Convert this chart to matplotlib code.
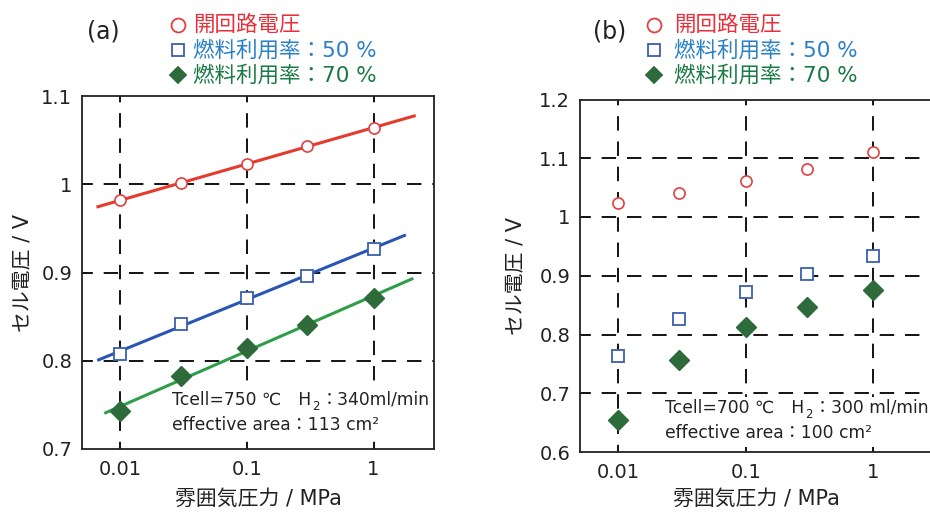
import numpy as np
import matplotlib
matplotlib.use("Agg")
import matplotlib.pyplot as plt
from matplotlib.lines import Line2D
from matplotlib.patches import Rectangle

plt.rcParams['font.family'] = ['DejaVu Sans', 'Noto Sans CJK JP']

# ---------------- data ----------------
pressure = [0.01, 0.03, 0.1, 0.3, 1.0]
xticks = [0.01, 0.1, 1]
xticklabels = ["0.01", "0.1", "1"]

# panel (a): Tcell=750 C
a_ocv = [0.982, 1.001, 1.023, 1.043, 1.064]
a_u50 = [0.808, 0.842, 0.871, 0.896, 0.927]
a_u70 = [0.743, 0.783, 0.814, 0.841, 0.871]
a_fit_ranges = {"ocv": [0.0065, 2.15], "u50": [0.0066, 1.8], "u70": [0.0075, 2.06]}
a_yticks = [0.7, 0.8, 0.9, 1.0, 1.1]
a_yticklabels = ["0.7", "0.8", "0.9", "1", "1.1"]

# panel (b): Tcell=700 C
b_ocv = [1.024, 1.041, 1.062, 1.082, 1.111]
b_u50 = [0.764, 0.827, 0.872, 0.903, 0.933]
b_u70 = [0.654, 0.756, 0.812, 0.846, 0.875]
b_yticks = [0.6, 0.7, 0.8, 0.9, 1.0, 1.1, 1.2]
b_yticklabels = ["0.6", "0.7", "0.8", "0.9", "1", "1.1", "1.2"]

legend_labels = ["開回路電圧", "燃料利用率：50 %", "燃料利用率：70 %"]
ylabel = "セル電圧 / V"
xlabel = "雰囲気圧力 / MPa"
a_note = [("Tcell=750 ℃　H", "2", "：340ml/min"), "effective area：113 cm²"]
b_note = [("Tcell=700 ℃　H", "2", "：300 ml/min"), "effective area：100 cm²"]

# ---------------- styles ----------------
RED_T, BLUE_T, GREEN_T = "#e8303a", "#2a80c8", "#1a7a45"
RED_M, BLUE_M, GREEN_M = "#e04040", "#3a5fb0", "#2d6b3a"
RED_L, BLUE_L, GREEN_L = "#e53b2e", "#2a55b5", "#2e9e48"
TXT = "#222222"

W, H = 930, 513
fig = plt.figure(figsize=(W / 100, H / 100), dpi=100)


def fig_rect(l, t, r, b):
    return [l / W, 1 - b / H, (r - l) / W, (b - t) / H]


def style_axes(ax, ylim, yticks, yticklabels, ylab_x, xlab_x):
    ax.set_xscale("log")
    ax.set_xlim(0.005, 3.0)
    ax.set_ylim(*ylim)
    ax.set_xticks(xticks)
    ax.set_xticklabels(xticklabels)
    ax.xaxis.set_minor_locator(matplotlib.ticker.NullLocator())
    ax.set_yticks(yticks)
    ax.set_yticklabels(yticklabels)
    ax.tick_params(axis="both", length=0, labelsize=14, colors=TXT)
    ax.tick_params(axis="y", pad=7)
    ax.tick_params(axis="x", pad=8)
    for s in ax.spines.values():
        s.set_linewidth(1.3)
        s.set_color("#222222")
    for yt in yticks[1:-1]:
        ax.axhline(yt, color="black", lw=1.3, ls=(2, (8, 6)), zorder=1)
    for xt in xticks:
        ax.axvline(xt, color="black", lw=1.3, ls=(4, (8, 6)), zorder=1)
    bb = ax.get_position()
    fig.text(ylab_x / W, bb.y0 + bb.height / 2, ylabel, fontsize=15, color=TXT,
             rotation=90, ha="center", va="center")
    fig.text(xlab_x / W, 1 - 499 / H, xlabel, fontsize=15, color=TXT,
             ha="center", va="center")


def plot_points(ax, ocv, u50, u70):
    ax.plot(pressure, ocv, ls="none", marker="o", ms=8, mfc="white", mec=RED_M, mew=1.2, zorder=4)
    ax.plot(pressure, u50, ls="none", marker="s", ms=8.5, mfc="white", mec=BLUE_M, mew=1.3, zorder=4)
    ax.plot(pressure, u70, ls="none", marker="D", ms=10, mfc=GREEN_M, mec=GREEN_M, mew=1.0, zorder=4)


def fit_line(ax, y, xr, color):
    lx = np.log10(pressure)
    k, c = np.polyfit(lx, y, 1)
    xs = np.array(xr)
    ax.plot(xs, k * np.log10(xs) + c, color=color, lw=2.2, zorder=3, solid_capstyle="butt")


def legend(mx, tx, y0):
    ys = [y0, y0 + 25, y0 + 50]
    mk = [("o", 10, "white", RED_M, RED_T), ("s", 9, "white", BLUE_M, BLUE_T), ("D", 8.5, GREEN_M, GREEN_M, GREEN_T)]
    for lab, yy, (m, ms, fc, ec, tc) in zip(legend_labels, ys, mk):
        fig.add_artist(Line2D([mx / W], [1 - yy / H], marker=m, ms=ms, mfc=fc, mec=ec, mew=1.3, ls="none"))
        fig.text(tx / W, 1 - yy / H, lab, fontsize=15.5, color=tc, ha="left", va="center")


def note(ax, x, y, lines, box):
    # white background box hiding the grid behind the annotation
    l, t, r, b = box
    ax.add_patch(Rectangle((l / W, 1 - b / H), (r - l) / W, (b - t) / H,
                           transform=fig.transFigure, facecolor="white",
                           edgecolor="none", zorder=2))
    pre, sub, post = lines[0]
    fs = 12.3
    t1 = fig.text(x / W, 1 - y / H, pre, fontsize=fs, color=TXT, ha="left", va="center")
    t2 = ax.annotate(sub, xy=(1, 0.12), xycoords=t1, xytext=(0.5, 0),
                     textcoords="offset points", fontsize=8.5, color=TXT,
                     ha="left", va="center", annotation_clip=False)
    ax.annotate(post, xy=(1, 0.5), xycoords=(t2, t1), xytext=(1, 0),
                textcoords="offset points", fontsize=fs, color=TXT,
                ha="left", va="center", annotation_clip=False)
    fig.text(x / W, 1 - (y + 25) / H, lines[1], fontsize=fs, color=TXT, ha="left", va="center")


# panel (a)
axa = fig.add_axes(fig_rect(82, 96, 434, 449))
style_axes(axa, (0.7, 1.1), a_yticks, a_yticklabels, 22, 258)
fit_line(axa, a_ocv, a_fit_ranges["ocv"], RED_L)
fit_line(axa, a_u50, a_fit_ranges["u50"], BLUE_L)
fit_line(axa, a_u70, a_fit_ranges["u70"], GREEN_L)
plot_points(axa, a_ocv, a_u50, a_u70)
note(axa, 172, 400, a_note, (168, 389, 432, 440))
fig.text(103 / W, 1 - 32 / H, "(a)", fontsize=17, color=TXT, ha="center", va="center")
legend(178, 193, 25)

# panel (b)
axb = fig.add_axes(fig_rect(580, 99.5, 934, 452))
style_axes(axb, (0.6, 1.2), b_yticks, b_yticklabels, 515, 756)
plot_points(axb, b_ocv, b_u50, b_u70)
note(axb, 665, 408, b_note, (661, 397, 934, 447))
fig.text(610 / W, 1 - 32 / H, "(b)", fontsize=17, color=TXT, ha="center", va="center")
legend(654, 674, 25)

fig.savefig("out.png", dpi=100)
